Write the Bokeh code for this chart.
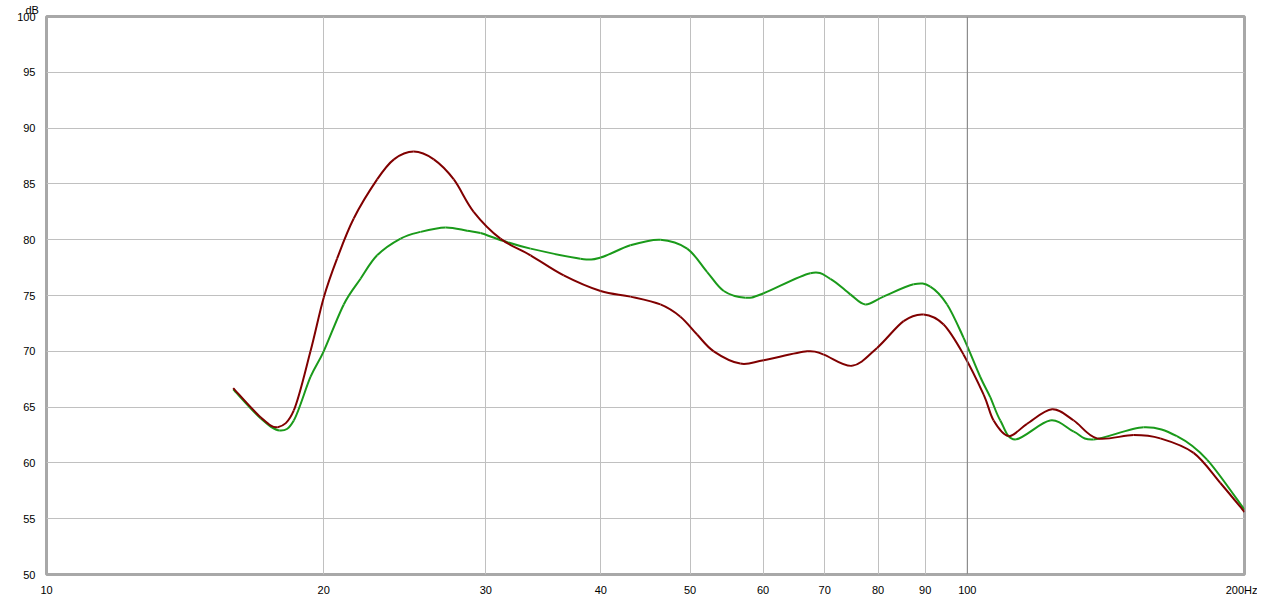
import math
from bokeh.plotting import figure
from bokeh.models import FixedTicker, Span, Title
from bokeh.embed import file_html
from bokeh.resources import INLINE

# Frequencies (Hz) and levels (dB)
red_freq = [15.95, 17.08, 17.83, 18.56, 19.35, 20.0, 20.68, 21.56, 22.86, 23.84, 25.05,
            26.34, 27.69, 29.10, 31.11, 33.55, 36.45, 39.97, 43.06, 46.42, 48.80, 50.88,
            53.04, 56.68, 60.09, 66.98, 69.82, 74.97, 79.80, 85.27, 89.64, 94.25, 99.08,
            104.2, 106.8, 110.9, 116.1, 123.6, 130.5, 138.3, 151.6, 162.0, 176.1, 188.3, 200.0]
red_db = [66.7, 64.1, 63.2, 64.7, 70.0, 74.8, 78.3, 81.9, 85.4, 87.2, 87.9,
          87.2, 85.4, 82.5, 80.1, 78.6, 76.8, 75.4, 74.9, 74.2, 73.1, 71.5,
          70.0, 68.9, 69.2, 70.0, 69.7, 68.7, 70.3, 72.7, 73.3, 72.4, 69.7,
          66.1, 63.8, 62.4, 63.5, 64.8, 63.8, 62.2, 62.5, 62.2, 60.9, 58.2, 55.6]

green_freq = [15.95, 17.08, 17.92, 18.56, 19.35, 20.0, 21.03, 21.93, 22.86, 24.24, 25.48,
              27.12, 28.63, 29.60, 31.32, 33.55, 38.0, 39.97, 43.06, 46.42, 49.63, 52.18,
              54.39, 57.41, 60.09, 67.53, 71.0, 74.64, 77.49, 81.1, 87.43, 91.16, 95.07,
              99.08, 103.3, 105.9, 108.6, 112.7, 123.0, 130.5, 137.1, 155.4, 168.9, 182.1, 200.0]
green_db = [66.6, 64.0, 62.9, 63.8, 67.7, 70.0, 74.2, 76.5, 78.6, 80.1, 80.7,
            81.1, 80.8, 80.6, 79.9, 79.2, 78.3, 78.4, 79.5, 80.0, 79.2, 77.1,
            75.4, 74.8, 75.2, 77.0, 76.5, 75.1, 74.2, 74.9, 76.0, 75.8, 74.2,
            71.2, 67.7, 65.9, 63.8, 62.1, 63.8, 62.8, 62.1, 63.2, 62.4, 60.3, 55.8]

x_ticks = [10, 20, 30, 40, 50, 60, 70, 80, 90, 100, 200]
x_tick_labels = {200: "200Hz"}
y_ticks = [50, 55, 60, 65, 70, 75, 80, 85, 90, 95, 100]
y_unit = "dB"


def smooth_segments(fx, fy):
    """Catmull-Rom curve through the read points (in log-frequency space), as Bezier segments."""
    lx = [math.log10(f) for f in fx]
    n = len(lx)
    seg = dict(x0=[], y0=[], x1=[], y1=[], cx0=[], cy0=[], cx1=[], cy1=[])
    for i in range(n - 1):
        p0 = (lx[max(i - 1, 0)], fy[max(i - 1, 0)])
        p1 = (lx[i], fy[i])
        p2 = (lx[i + 1], fy[i + 1])
        p3 = (lx[min(i + 2, n - 1)], fy[min(i + 2, n - 1)])
        c1 = (p1[0] + (p2[0] - p0[0]) / 6, p1[1] + (p2[1] - p0[1]) / 6)
        c2 = (p2[0] - (p3[0] - p1[0]) / 6, p2[1] - (p3[1] - p1[1]) / 6)
        seg["x0"].append(fx[i]); seg["y0"].append(fy[i])
        seg["x1"].append(fx[i + 1]); seg["y1"].append(fy[i + 1])
        seg["cx0"].append(10 ** c1[0]); seg["cy0"].append(c1[1])
        seg["cx1"].append(10 ** c2[0]); seg["cy1"].append(c2[1])
    return seg


p = figure(width=1257, height=598, x_axis_type="log", x_range=(10, 200), y_range=(50, 100),
           output_backend="svg", toolbar_location=None,
           min_border_left=46, min_border_right=13, min_border_top=15, min_border_bottom=18)
p.background_fill_color = "white"
p.border_fill_color = "white"
p.outline_line_color = "#a8a8a8"
p.outline_line_width = 3

p.add_layout(Title(text=y_unit, align="left", offset=-21, standoff=2,
                   text_font="Liberation Sans", text_font_size="11px",
                   text_font_style="normal", text_color="black"), "above")

p.xaxis.ticker = FixedTicker(ticks=x_ticks)
p.xaxis.major_label_overrides = x_tick_labels
p.yaxis.ticker = FixedTicker(ticks=y_ticks)
for ax in (p.xaxis, p.yaxis):
    ax.axis_line_color = None
    ax.major_tick_line_color = None
    ax.minor_tick_line_color = None
    ax.major_label_text_font = "Liberation Sans"
    ax.major_label_text_font_size = "11px"
    ax.major_label_text_color = "black"
p.xaxis.major_label_standoff = 3
p.yaxis.major_label_standoff = 5

p.xgrid.ticker = FixedTicker(ticks=x_ticks)
p.ygrid.ticker = FixedTicker(ticks=y_ticks)
p.xgrid.grid_line_color = "#c0c0c0"
p.ygrid.grid_line_color = "#c0c0c0"
p.xgrid.minor_grid_line_color = None

p.add_layout(Span(location=100, dimension="height", line_color="#808080", line_width=1))

g = smooth_segments(green_freq, green_db)
p.bezier(x0=g["x0"], y0=g["y0"], x1=g["x1"], y1=g["y1"], cx0=g["cx0"], cy0=g["cy0"],
         cx1=g["cx1"], cy1=g["cy1"], line_color="#1a9a1a", line_width=2)
r = smooth_segments(red_freq, red_db)
p.bezier(x0=r["x0"], y0=r["y0"], x1=r["x1"], y1=r["y1"], cx0=r["cx0"], cy0=r["cy0"],
         cx1=r["cx1"], cy1=r["cy1"], line_color="#800000", line_width=2)

open("out.html", "w").write(file_html(p, INLINE))
